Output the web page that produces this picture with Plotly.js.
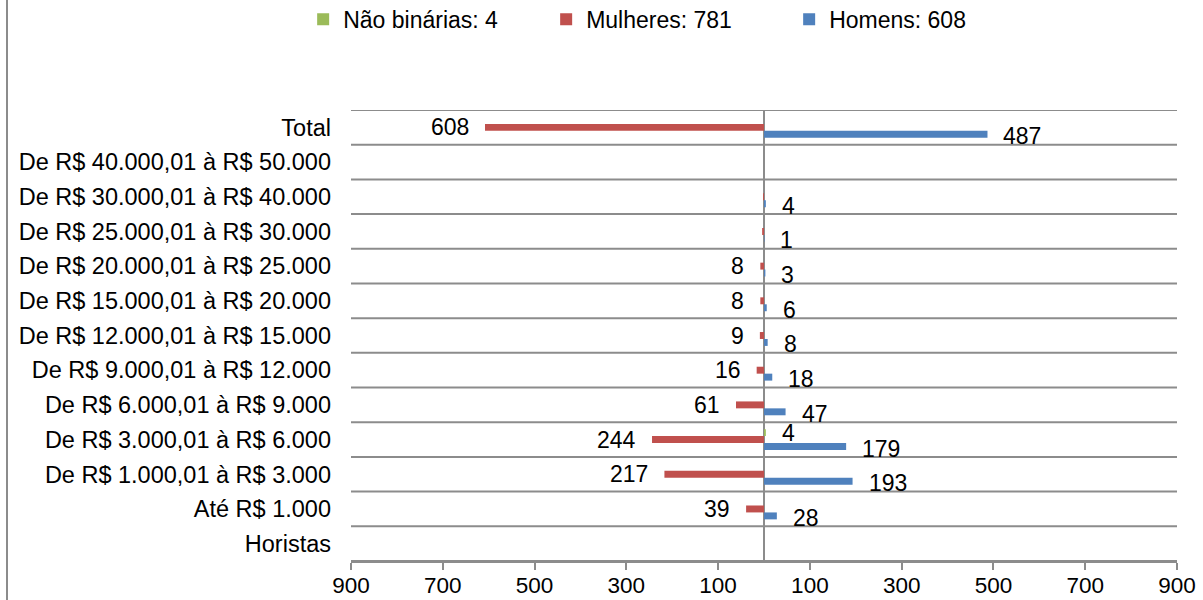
<!DOCTYPE html>
<html>
<head>
<meta charset="utf-8">
<script src="https://cdn.plot.ly/plotly-3.0.1.min.js"></script>
<style>
  html, body { margin: 0; padding: 0; background: #fff; }
  #wrap { position: relative; width: 1203px; height: 600px; }
  #chart { width: 1203px; height: 600px; }
  #frame { position: absolute; left: 6px; top: 0; width: 2px; height: 600px; background: #8c8c8c; }
</style>
</head>
<body>
<div id="wrap">
  <div id="chart"></div>
  <div id="frame"></div>
</div>
<script>
// Categories, top to bottom
const categories = [
  "Total",
  "De R$ 40.000,01 à R$ 50.000",
  "De R$ 30.000,01 à R$ 40.000",
  "De R$ 25.000,01 à R$ 30.000",
  "De R$ 20.000,01 à R$ 25.000",
  "De R$ 15.000,01 à R$ 20.000",
  "De R$ 12.000,01 à R$ 15.000",
  "De R$ 9.000,01 à R$ 12.000",
  "De R$ 6.000,01 à R$ 9.000",
  "De R$ 3.000,01 à R$ 6.000",
  "De R$ 1.000,01 à R$ 3.000",
  "Até R$ 1.000",
  "Horistas"
];
const mulheres = [608, 0, 2, 4, 8, 8, 9, 16, 61, 244, 217, 39, 0];
const mulheresShowLabel = [true, false, false, false, true, true, true, true, true, true, true, true, false];
const homens = [487, 0, 4, 1, 3, 6, 8, 18, 47, 179, 193, 28, 0];
const naoBinarias = [0, 0, 0, 0, 0, 0, 0, 0, 0, 4, 0, 0, 0];
const seriesNames = ["Não binárias: 4", "Mulheres: 781", "Homens: 608"];
const tickValues = [-900, -700, -500, -300, -100, 100, 300, 500, 700, 900];
const tickLabels = tickValues.map(v => String(Math.abs(v)));

const colNB = "#9BBB59", colM = "#C0504D", colH = "#4F81BD";
const FONT = "Liberation Sans, Arial, sans-serif";
const idx = categories.map((_, i) => i);

const traces = [
  { type: "bar", orientation: "h", name: seriesNames[0], y: idx, x: naoBinarias,
    width: 0.2, offset: -0.3, marker: { color: colNB }, hoverinfo: "skip" },
  { type: "bar", orientation: "h", name: seriesNames[1], y: idx, x: mulheres.map(v => -v),
    width: 0.2, offset: -0.1, marker: { color: colM }, hoverinfo: "skip" },
  { type: "bar", orientation: "h", name: seriesNames[2], y: idx, x: homens,
    width: 0.2, offset: 0.1, marker: { color: colH }, hoverinfo: "skip" }
];

const annotations = [];
mulheres.forEach((v, i) => {
  if (v > 0 && mulheresShowLabel[i]) {
    annotations.push({ x: -v, y: i, xref: "x", yref: "y", text: String(v), showarrow: false,
      xanchor: "right", yanchor: "middle", xshift: -14, font: { family: FONT, size: 23, color: "#000" } });
  }
});
homens.forEach((v, i) => {
  if (v > 0) {
    annotations.push({ x: v, y: i + 0.2, xref: "x", yref: "y", text: String(v), showarrow: false,
      xanchor: "left", yanchor: "middle", xshift: 14, yshift: -2, font: { family: FONT, size: 23, color: "#000" } });
  }
});
naoBinarias.forEach((v, i) => {
  if (v > 0) {
    annotations.push({ x: v, y: i - 0.2, xref: "x", yref: "y", text: String(v), showarrow: false,
      xanchor: "left", yanchor: "middle", xshift: 14, font: { family: FONT, size: 23, color: "#000" } });
  }
});

const layout = {
  width: 1203, height: 600,
  margin: { l: 351, r: 26, t: 110, b: 39, pad: 0 },
  paper_bgcolor: "#fff", plot_bgcolor: "#fff",
  font: { family: FONT, size: 23, color: "#000" },
  barmode: "overlay",
  showlegend: true,
  legend: {
    orientation: "h", xref: "container", yref: "container",
    x: 0.252, xanchor: "left", y: 0.968, yanchor: "middle",
    traceorder: "normal", entrywidth: 198, entrywidthmode: "pixels",
    font: { family: FONT, size: 23, color: "#000" }, bgcolor: "rgba(0,0,0,0)"
  },
  xaxis: {
    range: [-900, 900], tickmode: "array", tickvals: tickValues, ticktext: tickLabels,
    showgrid: false, zeroline: true, zerolinecolor: "#8c8c8c", zerolinewidth: 2,
    showline: true, linecolor: "#8c8c8c", linewidth: 2,
    ticks: "outside", ticklen: 7, tickwidth: 2, tickcolor: "#8c8c8c",
    ticklabelstandoff: -4,
    tickfont: { family: FONT, size: 22.5, color: "#000" }, fixedrange: true
  },
  yaxis: {
    range: [12.5, -0.5], tickmode: "array", tickvals: idx, ticktext: categories,
    showgrid: false, zeroline: false, showline: false, ticks: "",
    ticklabelstandoff: 19,
    tickfont: { family: FONT, size: 23.5, color: "#000" }, fixedrange: true
  },
  shapes: idx.concat([idx.length]).map(i => ({
    type: "line", xref: "paper", yref: "y", x0: 0, x1: 1, y0: i - 0.5, y1: i - 0.5,
    line: { color: "#8c8c8c", width: 2 }, layer: "below"
  })),
  annotations: annotations
};

Plotly.newPlot("chart", traces, layout, { displayModeBar: false, staticPlot: true });
</script>
</body>
</html>
